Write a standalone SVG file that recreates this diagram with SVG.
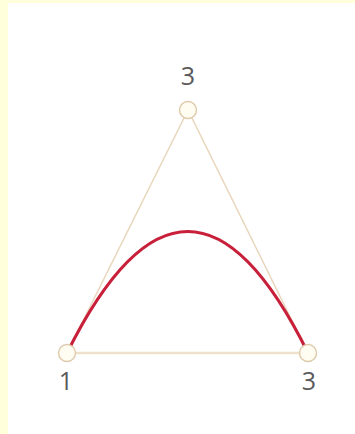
<svg xmlns="http://www.w3.org/2000/svg" width="355" height="434" viewBox="0 0 355 434">
<style>
.edge{fill:none;stroke:#e8d6bb;stroke-width:1.5}
.base{fill:none;stroke:#efe2cc;stroke-width:2.5}
.pt{fill:#fffdf2;stroke:#dfcbad;stroke-width:1.5}
.lbl{font-family:"Open Sans","Noto Sans",sans-serif;font-size:25px;fill:#5a5a5a;text-anchor:middle}
.curve{fill:none;stroke:#c8203a;stroke-width:3.2;stroke-linecap:round}
</style>
<rect x="0" y="0" width="355" height="434" fill="#ffffff"/>
<rect x="0" y="0" width="8" height="434" fill="#ffffdc"/>
<rect x="0" y="0" width="355" height="3" fill="#ffffdc"/>
<g id="connectors">
<line class="edge" x1="67" y1="353" x2="188" y2="110"/>
<line class="edge" x1="188" y1="110" x2="308" y2="353"/>
<line class="base" x1="67" y1="353" x2="308" y2="353"/>
<path class="curve" d="M67,353 Q188,110 308,353"/>
</g>
<g id="p0">
<circle class="pt" cx="67" cy="353" r="8.5"/>
<text class="lbl" x="66" y="390">1</text>
</g>
<g id="p1">
<circle class="pt" cx="188" cy="110" r="8.5"/>
<text class="lbl" x="188" y="85">3</text>
</g>
<g id="p2">
<circle class="pt" cx="308" cy="353" r="8.5"/>
<text class="lbl" x="309" y="390">3</text>
</g>
</svg>
